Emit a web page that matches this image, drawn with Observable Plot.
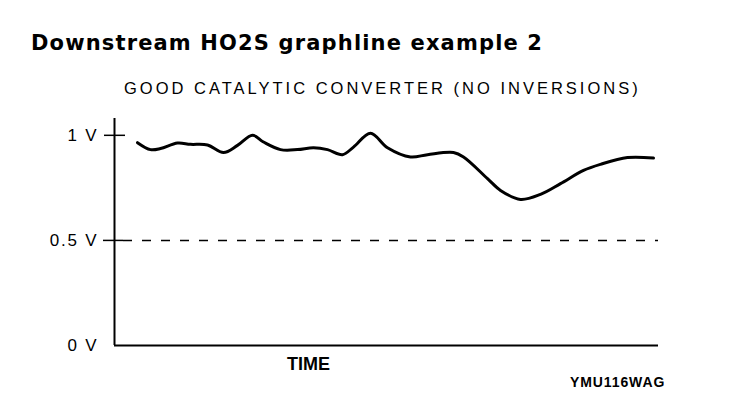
<!DOCTYPE html>
<html>
<head>
<meta charset="utf-8">
<script src="https://cdn.jsdelivr.net/npm/d3@7"></script>
<script src="https://cdn.jsdelivr.net/npm/@observablehq/plot@0.6"></script>
<style>
  html, body { margin: 0; padding: 0; background: #fff; }
  body { width: 752px; height: 414px; overflow: hidden; font-family: "Liberation Sans", Arial, Helvetica, sans-serif; color: #000; }
  #title { padding-top: 31px; height: 24px; line-height: 24px; margin-left: 31px; font-family: "DejaVu Sans", sans-serif; font-size: 21px; font-weight: bold; letter-spacing: 1.15px; white-space: nowrap; }
  #sub { padding-top: 23px; height: 20px; line-height: 20px; margin-left: 124px; font-size: 16.5px; letter-spacing: 3px; white-space: nowrap; }
  #chart { padding-top: 2px; height: 274px; }
  #chart svg { display: block; }
  #chart g[aria-label="y-axis tick label"] text { letter-spacing: 1.8px; }
  #caption { height: 16px; line-height: 16px; margin-left: 570px; font-size: 14px; font-weight: bold; letter-spacing: 0.9px; white-space: nowrap; }
</style>
</head>
<body>
<div id="title">Downstream HO2S graphline example 2</div>
<div id="sub">GOOD CATALYTIC CONVERTER (NO INVERSIONS)</div>
<div id="chart"></div>
<div id="caption">YMU116WAG</div>
<script>
// Time (arbitrary units along the TIME axis)
const time = [23, 36, 46, 63, 76, 93, 109, 123, 138, 149, 166, 183, 199, 213, 228, 239, 256, 273, 296, 313, 339, 349, 373, 386, 406, 426, 446, 469, 486, 513, 539];
// HO2S voltage (V)
const volts = [0.965, 0.932, 0.937, 0.963, 0.957, 0.954, 0.918, 0.952, 1.0, 0.968, 0.932, 0.932, 0.941, 0.932, 0.908, 0.944, 1.01, 0.941, 0.897, 0.908, 0.918, 0.897, 0.794, 0.738, 0.695, 0.719, 0.770, 0.833, 0.862, 0.894, 0.892];
// Y tick values and labels
const yTicks = [0, 0.5, 1];
const yTickLabels = ["0 V", "0.5 V", "1 V"];
const threshold = [0.5];
const xLabel = "TIME";
const xLabelAt = [194];

const data = time.map((t, i) => ({t, v: volts[i]}));

const plot = Plot.plot({
  width: 752,
  height: 274,
  marginLeft: 114,
  marginRight: 94,
  marginTop: 18,
  marginBottom: 29,
  style: {fontFamily: '"Liberation Sans", Arial, Helvetica, sans-serif', color: "#000", background: "#fff"},
  x: {domain: [0, 544], axis: null},
  y: {domain: [0, 1.08], axis: null},
  marks: [
    Plot.axisY({
      ticks: yTicks,
      tickSize: 0,
      tickPadding: 16,
      label: null,
      tickFormat: d => yTickLabels[yTicks.indexOf(d)],
      fontSize: 17
    }),
    // axis lines
    Plot.ruleX([0], {y1: 0, y2: 1.08, stroke: "#000", strokeWidth: 2}),
    Plot.ruleY([0], {x1: 0, x2: 544, stroke: "#000", strokeWidth: 2}),
    // tick crosses
    Plot.ruleY([1], {x1: -10, x2: 11, stroke: "#000", strokeWidth: 1.5}),
    Plot.ruleY(threshold, {x1: -11, x2: 9, stroke: "#000", strokeWidth: 1.5}),
    // dashed 0.5 V reference
    Plot.ruleY(threshold, {x1: 9, x2: 544, stroke: "#000", strokeWidth: 1.5, strokeDasharray: "9,10"}),
    // signal
    Plot.line(data, {x: "t", y: "v", curve: "catmull-rom", stroke: "#000", strokeWidth: 3}),
    // TIME label
    Plot.text(xLabelAt, {x: d => d, frameAnchor: "bottom", dy: 19, text: () => xLabel, fontSize: 18, fontWeight: "bold", lineAnchor: "middle", fill: "#000"})
  ]
});
document.getElementById("chart").appendChild(plot);
</script>
</body>
</html>
